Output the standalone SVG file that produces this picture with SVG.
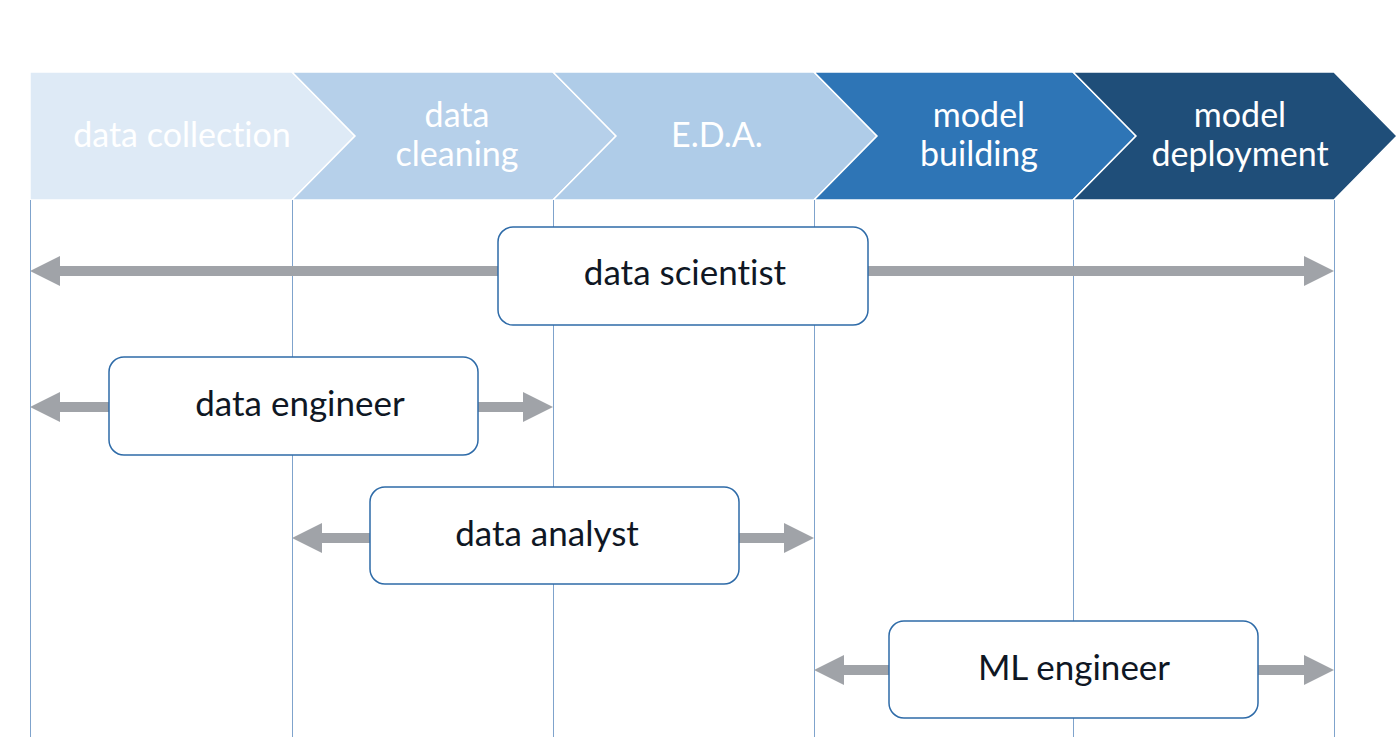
<svg xmlns="http://www.w3.org/2000/svg" width="1400" height="737" viewBox="0 0 1400 737">
<style>
.stage{stroke:#ffffff;stroke-width:1.5}
.stxt{font-family:Lato,"Liberation Sans",sans-serif;font-size:34px;fill:#ffffff;text-anchor:middle;font-variant-ligatures:none}
.vline{stroke:#7FA3CC;stroke-width:1}
.conn{stroke:#A0A3A8;stroke-width:10;fill:none;marker-end:url(#head)}
.box{fill:#ffffff;stroke:#2E6BA8;stroke-width:1.5}
.btxt{font-family:Lato,"Liberation Sans",sans-serif;font-size:35px;fill:#0F1724;text-anchor:middle;font-variant-ligatures:none}
</style>
<defs>
<marker id="head" viewBox="0 0 30 30" refX="10" refY="15" markerWidth="30" markerHeight="30" markerUnits="userSpaceOnUse" orient="auto">
<path d="M0,0 L30,15 L0,30 Z" fill="#A0A3A8"/>
</marker>
</defs>
<rect width="1400" height="737" fill="#ffffff"/>
<g id="stages">
<g id="stage-data-collection">
<path class="stage" d="M30,72 L292,72 L355,136 L292,200 L30,200 Z" fill="#DEEAF6"/>
<text class="stxt" x="182" y="147">data collection</text>
</g>
<g id="stage-data-cleaning">
<path class="stage" d="M292,72 L553,72 L616,136 L553,200 L292,200 L355,136 Z" fill="#B6D0EA"/>
<text class="stxt" x="457" y="127">data</text>
<text class="stxt" x="457" y="166">cleaning</text>
</g>
<g id="stage-eda">
<path class="stage" d="M553,72 L814,72 L877,136 L814,200 L553,200 L616,136 Z" fill="#AFCCE8"/>
<text class="stxt" x="717" y="147">E.D.A.</text>
</g>
<g id="stage-model-building">
<path class="stage" d="M814,72 L1073,72 L1136,136 L1073,200 L814,200 L877,136 Z" fill="#2E75B6"/>
<text class="stxt" x="979" y="127">model</text>
<text class="stxt" x="979" y="166">building</text>
</g>
<g id="stage-model-deployment">
<path class="stage" d="M1073,72 L1334,72 L1397,136 L1334,200 L1073,200 L1136,136 Z" fill="#1F4E79"/>
<text class="stxt" x="1240" y="127">model</text>
<text class="stxt" x="1240" y="166">deployment</text>
</g>
</g>
<g id="gridlines">
<line class="vline" x1="30.5" y1="200" x2="30.5" y2="737"/>
<line class="vline" x1="292.5" y1="200" x2="292.5" y2="737" stroke="#A0A0A8"/>
<line class="vline" x1="553.5" y1="200" x2="553.5" y2="737"/>
<line class="vline" x1="814.5" y1="200" x2="814.5" y2="737"/>
<line class="vline" x1="1073.5" y1="200" x2="1073.5" y2="737"/>
<line class="vline" x1="1334.5" y1="200" x2="1334.5" y2="737"/>
</g>
<g id="connectors">
<line class="conn" x1="500" y1="271" x2="50" y2="271"/>
<line class="conn" x1="866" y1="271" x2="1314" y2="271"/>
<line class="conn" x1="111" y1="407" x2="50" y2="407"/>
<line class="conn" x1="476" y1="407" x2="533" y2="407"/>
<line class="conn" x1="372" y1="538" x2="312" y2="538"/>
<line class="conn" x1="737" y1="538" x2="794" y2="538"/>
<line class="conn" x1="891" y1="670" x2="834" y2="670"/>
<line class="conn" x1="1256" y1="670" x2="1314" y2="670"/>
</g>
<g id="node-data-scientist">
<rect class="box" x="498" y="227" width="370" height="98" rx="15"/>
<text class="btxt" x="685" y="285">data scientist</text>
</g>
<g id="node-data-engineer">
<rect class="box" x="109" y="357" width="369" height="98" rx="15"/>
<text class="btxt" x="300" y="416">data engineer</text>
</g>
<g id="node-data-analyst">
<rect class="box" x="370" y="487" width="369" height="97" rx="15"/>
<text class="btxt" x="547" y="546">data analyst</text>
</g>
<g id="node-ml-engineer">
<rect class="box" x="889" y="621" width="369" height="97" rx="15"/>
<text class="btxt" x="1074" y="680">ML engineer</text>
</g>
</svg>
